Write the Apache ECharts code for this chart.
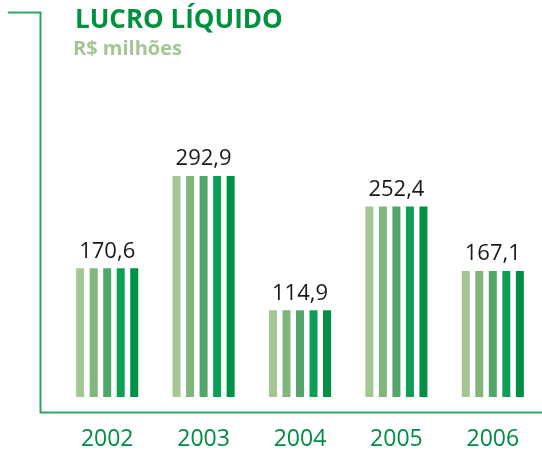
<!DOCTYPE html>
<html>
<head>
<meta charset="utf-8">
<script src="https://cdn.jsdelivr.net/npm/echarts@6/dist/echarts.min.js"></script>
<style>
html,body{margin:0;padding:0;background:#fff;}
#chart{width:542px;height:456px;}
</style>
</head>
<body>
<div id="chart"></div>
<script>
const years = ['2002', '2003', '2004', '2005', '2006'];
const lucroLiquido = [170.6, 292.9, 114.9, 252.4, 167.1];
const stripeColors = ['#a3c793', '#80b67c', '#52a66a', '#0e9e58', '#008f47'];

const chart = echarts.init(document.getElementById('chart'));

const series = stripeColors.map((c, i) => ({
  type: 'bar',
  data: lucroLiquido,
  barWidth: 8,
  barGap: '69%',
  itemStyle: { color: c },
  silent: true,
  label: i === 2 ? {
    show: true,
    position: 'top',
    distance: 6,
    formatter: p => String(p.value).replace('.', ','),
    fontFamily: 'Open Sans',
    fontSize: 22,
    color: '#1a1a1a'
  } : { show: false }
}));

chart.setOption({
  animation: false,
  grid: { left: 59, right: 1, top: 133, bottom: 59 },
  xAxis: {
    type: 'category',
    data: years,
    axisLine: { show: false },
    axisTick: { show: false },
    axisLabel: {
      margin: 31,
      fontFamily: 'Open Sans',
      fontSize: 23,
      color: '#008c45'
    }
  },
  yAxis: {
    type: 'value',
    min: 0,
    max: 350,
    show: false,
    splitLine: { show: false }
  },
  graphic: [
    {
      type: 'polyline',
      shape: { points: [[8, 12.5], [40.5, 12.5], [40.5, 412.5], [542, 412.5]] },
      style: { stroke: '#2ea462', lineWidth: 2, fill: null }
    },
    {
      type: 'text',
      left: 75,
      top: 8,
      style: {
        text: 'LUCRO LÍQUIDO',
        fontFamily: 'Open Sans',
        fontWeight: 'bold',
        fontSize: 26,
        fill: '#00913f'
      }
    },
    {
      type: 'text',
      left: 73,
      top: 39,
      style: {
        text: 'R$ milhões',
        fontFamily: 'Open Sans',
        fontWeight: 'bold',
        fontSize: 20,
        fill: '#a3c793'
      }
    }
  ],
  series: series
});
</script>
</body>
</html>
